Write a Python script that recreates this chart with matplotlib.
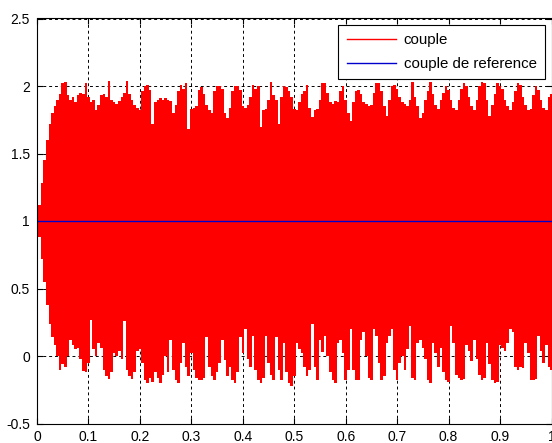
import matplotlib
matplotlib.use("Agg")
import matplotlib.pyplot as plt
import numpy as np

plt.rcParams["font.family"] = ["Liberation Sans", "DejaVu Sans"]

# envelope of the (very dense) couple signal, read every 0.005 s
UPPER = [
    1.00, 1.12, 1.28, 1.45, 1.60, 1.72, 1.80, 1.85, 1.90, 1.94,
    2.02, 2.03, 1.93, 1.90, 1.92, 1.88, 1.93, 1.95, 1.94, 2.02,
    1.92, 1.88, 1.90, 1.82, 1.86, 1.93, 1.94, 1.92, 2.04, 1.90,
    1.88, 1.87, 1.89, 1.92, 1.95, 2.04, 1.94, 1.90, 1.86, 1.84,
    1.82, 1.96, 2.00, 2.01, 1.97, 1.72, 1.88, 1.90, 1.91, 1.90,
    1.91, 1.90, 1.89, 1.80, 1.86, 1.96, 2.01, 1.98, 2.02, 1.68,
    1.83, 1.84, 1.85, 1.97, 1.99, 1.94, 1.86, 1.82, 1.80, 1.96,
    2.00, 2.00, 1.98, 1.80, 1.76, 1.84, 1.96, 2.00, 2.00, 1.97,
    1.85, 1.84, 1.86, 1.92, 2.01, 1.98, 2.00, 1.70, 1.82, 1.83,
    1.90, 2.03, 1.93, 1.90, 1.72, 1.92, 2.00, 1.99, 1.96, 1.92,
    1.83, 1.82, 1.88, 1.94, 1.96, 2.01, 1.84, 1.77, 1.82, 1.83,
    1.90, 2.02, 2.02, 1.95, 1.88, 1.87, 1.89, 1.88, 1.96, 2.00,
    1.90, 1.80, 1.74, 1.88, 1.96, 1.97, 1.94, 1.88, 1.87, 1.85,
    1.86, 1.95, 2.02, 2.02, 1.96, 1.85, 1.78, 1.90, 2.00, 2.01,
    1.98, 1.92, 1.88, 1.87, 1.85, 1.90, 2.03, 1.92, 1.85, 1.76,
    1.80, 1.90, 1.96, 2.03, 1.94, 1.86, 1.83, 1.90, 1.95, 2.00,
    1.97, 1.90, 1.84, 1.82, 1.90, 1.98, 2.02, 2.00, 1.92, 1.85,
    1.82, 1.90, 2.00, 2.03, 2.02, 1.90, 1.78, 1.86, 1.94, 2.02,
    2.00, 1.98, 1.90, 1.85, 1.82, 1.88, 1.96, 2.02, 2.01, 1.92,
    1.86, 1.82, 1.83, 1.93, 2.00, 1.97, 1.90, 1.84, 1.82, 1.92,
    1.94,
]
LOWER = [
    1.00, 0.88, 0.72, 0.55, 0.38, 0.24, 0.14, 0.08, 0.00, -0.10,
    -0.06, -0.08, 0.00, 0.12, 0.08, 0.05, 0.06, -0.02, -0.11, -0.12,
    -0.05, 0.27, 0.05, 0.00, 0.10, 0.06, -0.10, -0.15, -0.17, -0.12,
    0.02, 0.00, 0.04, -0.02, 0.26, -0.10, -0.15, -0.17, -0.12, 0.04,
    0.05, -0.05, -0.18, -0.20, -0.16, -0.19, -0.12, -0.16, -0.20, -0.14,
    0.00, -0.12, 0.12, -0.10, -0.18, -0.20, -0.05, 0.10, -0.08, -0.15,
    0.02, -0.10, -0.16, -0.18, -0.18, -0.16, 0.14, -0.08, -0.15, -0.18,
    -0.12, -0.05, 0.12, -0.03, -0.15, -0.08, -0.18, -0.20, -0.12, 0.14,
    0.02, 0.20, -0.02, -0.08, 0.15, -0.10, -0.18, -0.20, -0.16, 0.15,
    -0.05, -0.14, -0.18, 0.14, -0.10, -0.18, 0.10, -0.12, -0.20, -0.22,
    -0.15, 0.10, 0.05, 0.02, -0.08, -0.15, -0.10, 0.24, -0.08, -0.18,
    0.12, 0.03, 0.15, 0.00, -0.12, -0.18, -0.20, 0.10, 0.12, 0.02,
    -0.18, -0.10, 0.20, -0.10, -0.18, -0.18, 0.12, 0.18, 0.00, -0.16,
    -0.18, 0.20, 0.15, -0.05, -0.18, -0.15, 0.10, 0.15, 0.20, -0.10,
    -0.18, -0.05, 0.00, -0.10, 0.05, 0.22, -0.16, -0.18, 0.10, 0.12,
    0.06, -0.02, -0.18, -0.20, 0.10, 0.02, -0.08, 0.06, -0.12, -0.18,
    -0.19, 0.22, 0.10, -0.14, -0.16, -0.18, -0.17, 0.08, 0.04, -0.04,
    0.12, -0.02, -0.14, -0.18, -0.16, 0.10, -0.06, -0.18, -0.20, -0.19,
    0.08, 0.06, 0.04, 0.10, 0.20, 0.18, -0.08, -0.10, -0.08, -0.09,
    0.10, 0.02, -0.18, -0.18, -0.17, 0.15, 0.04, -0.05, 0.08, -0.08,
    -0.10,
]
REF_T = [0.0, 1.0]
REF_VAL = [1.0, 1.0]

t = np.linspace(0.0, 1.0, len(UPPER))

fig = plt.figure(figsize=(5.52, 4.43), dpi=100)
ax = fig.add_axes([37 / 552, 1 - 423.5 / 443, 514.5 / 552, 405 / 443])

ax.fill_between(t, LOWER, UPPER, step="mid", color="#ff0000", lw=0, zorder=2)
ax.plot([], [], color="#ff0000", lw=1, label="couple")
ax.plot(REF_T, REF_VAL, color="#0000cc", lw=1, label="couple de reference", zorder=3)

ax.set_xlim(0, 1)
ax.set_ylim(-0.5, 2.5)
ax.set_xticks(np.arange(0, 1.01, 0.1))
ax.set_xticklabels(["0", "0.1", "0.2", "0.3", "0.4", "0.5", "0.6", "0.7", "0.8", "0.9", "1"])
ax.set_yticks(np.arange(-0.5, 2.51, 0.5))
ax.set_yticklabels(["-0.5", "0", "0.5", "1", "1.5", "2", "2.5"])
ax.tick_params(direction="in", length=4, width=0.8, labelsize=10,
               top=True, right=True, pad=5, colors="black")
ax.grid(True, color="black", ls=(0, (3, 3)), lw=0.7)
ax.set_axisbelow(True)
for sp in ax.spines.values():
    sp.set_linewidth(0.8)
    sp.set_zorder(4)

leg = ax.legend(loc="upper right", fontsize=10.8, fancybox=False, framealpha=1,
                edgecolor="black", borderaxespad=0.45, handlelength=3.3,
                handletextpad=0.5, borderpad=0.55, labelspacing=0.62)
leg.get_frame().set_linewidth(0.8)
leg.set_zorder(5)

fig.savefig("out.png", dpi=100, facecolor="white")
